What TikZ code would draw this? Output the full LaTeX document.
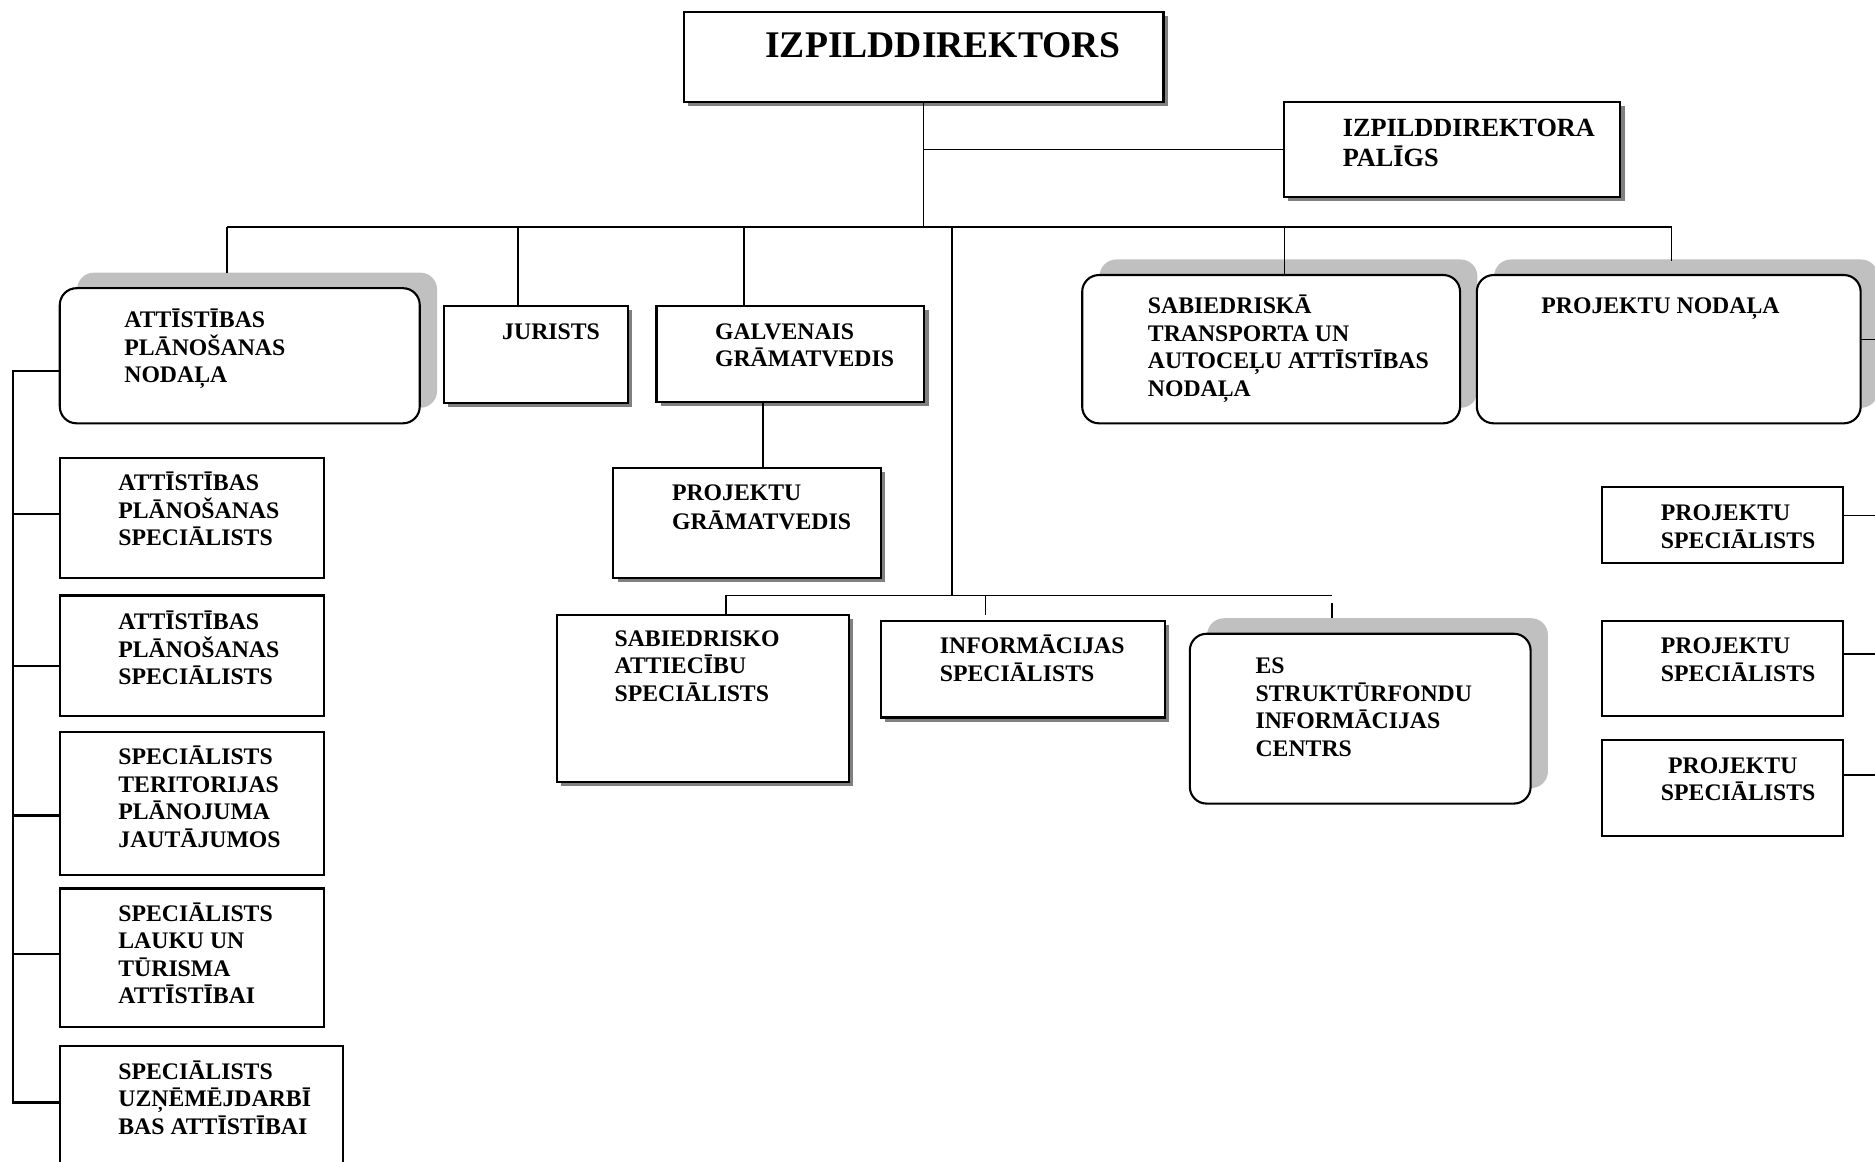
\documentclass[tikz,border=0pt]{standalone}
\usepackage{fontspec}
\setmainfont{Liberation Serif}
\usetikzlibrary{calc,shadows}
\definecolor{shdark}{RGB}{128,128,128}
\definecolor{shlight}{RGB}{192,192,192}
\newcommand{\tl}[2][13.1pt]{\vtop{\baselineskip=#1\relax\lineskiplimit=-\maxdimen\halign{##\hfil\cr#2\crcr}}}
\newcommand{\bx}[6]{\node[#6, minimum width={(#4-#2)*0.2mm}, minimum height={(#5-#3)*0.2mm}, anchor=north west] (#1) at (#2,#3) {};}
\tikzset{
  boxbase/.style={draw, line width=1pt, fill=white, inner sep=0pt, outer sep=0pt, rectangle},
  sbox/.style={boxbase, drop shadow={shadow xshift=0.7mm, shadow yshift=-0.7mm, fill=shdark, opacity=1}},
  pbox/.style={boxbase},
  rbox/.style={boxbase, rounded corners=2.8mm, drop shadow={shadow xshift=2.9mm, shadow yshift=2.6mm, fill=shlight, opacity=1}},
  txt/.style={anchor=base west, inner sep=0pt, outer sep=0pt, font=\bfseries\fontsize{11.3pt}{13.1pt}\selectfont},
  conn/.style={line width=0.7pt},
  connl/.style={line width=1pt},
}
\begin{document}
\begin{tikzpicture}[x=0.2mm,y=-0.2mm]
\clip (0,0) rectangle (1568,971);
% boxes
\bx{T}{572}{10}{973}{85}{sbox}
\bx{P}{1074}{85}{1355}{165}{sbox}
\bx{APN}{50}{241}{351}{354}{rbox}
\bx{JUR}{371}{256}{525}{337}{sbox}
\bx{GAL}{549}{256}{773}{336}{sbox}
\bx{PG}{513}{391}{737}{483}{sbox}
\bx{STA}{905}{230}{1221}{354}{rbox}
\bx{PN}{1235}{230}{1556}{354}{rbox}
\bx{SAS}{466}{514}{710}{654}{sbox}
\bx{INF}{737}{519}{974}{600}{sbox}
\bx{ES}{995}{530}{1280}{672}{rbox}
\bx{L1}{50}{383}{271}{483}{pbox}
\bx{L2}{50}{498}{271}{599}{pbox}
\bx{L3}{50}{612}{271}{732}{pbox}
\bx{L4}{50}{743}{271}{859}{pbox}
\bx{L5}{50}{875}{287}{1000}{pbox}
\bx{R1}{1340}{407}{1541}{471}{pbox}
\bx{R2}{1340}{519}{1541}{599}{pbox}
\bx{R3}{1340}{619}{1541}{699}{pbox}
% texts
\node[txt, font=\bfseries\fontsize{17.9pt}{20pt}\selectfont] (tT) at (640,48) {IZPILDDIREKTORS};
\node[txt, font=\bfseries\fontsize{12.5pt}{14.5pt}\selectfont] (tP) at (1123,114) {\tl[14.5pt]{IZPILDDIREKTORA\cr PALĪGS}};
\node[txt] (tAPN) at (104,274) {\tl{ATTĪSTĪBAS\cr PLĀNOŠANAS\cr NODAĻA}};
\node[txt] (tJUR) at (420,283.5) {JURISTS};
\node[txt] (tGAL) at (598,283.5) {\tl{GALVENAIS\cr GRĀMATVEDIS}};
\node[txt] (tPG) at (562,418.5) {\tl[13.66pt]{PROJEKTU\cr GRĀMATVEDIS}};
\node[txt] (tSTA) at (960,262.5) {\tl{SABIEDRISKĀ\cr TRANSPORTA UN\cr AUTOCEĻU ATTĪSTĪBAS\cr NODAĻA}};
\node[txt] (tPN) at (1289,262.5) {PROJEKTU NODAĻA};
\node[txt] (tSAS) at (514,540.5) {\tl{SABIEDRISKO\cr ATTIECĪBU\cr SPECIĀLISTS}};
\node[txt] (tINF) at (786,546.5) {\tl{INFORMĀCIJAS\cr SPECIĀLISTS}};
\node[txt] (tES) at (1050,563.5) {\tl{ES\cr STRUKTŪRFONDU\cr INFORMĀCIJAS\cr CENTRS}};
\node[txt] (tL1) at (99,410.5) {\tl{ATTĪSTĪBAS\cr PLĀNOŠANAS\cr SPECIĀLISTS}};
\node[txt] (tL2) at (99,526.5) {\tl{ATTĪSTĪBAS\cr PLĀNOŠANAS\cr SPECIĀLISTS}};
\node[txt] (tL3) at (99,639.5) {\tl{SPECIĀLISTS\cr TERITORIJAS\cr PLĀNOJUMA\cr JAUTĀJUMOS}};
\node[txt] (tL4) at (99,770.5) {\tl{SPECIĀLISTS\cr LAUKU UN\cr TŪRISMA\cr ATTĪSTĪBAI}};
\node[txt] (tL5) at (99,902.5) {\tl{SPECIĀLISTS\cr UZŅĒMĒJDARBĪ\cr BAS ATTĪSTĪBAI}};
\node[txt] (tR1) at (1389,435.5) {\tl{PROJEKTU\cr SPECIĀLISTS}};
\node[txt] (tR2) at (1389,546.5) {\tl{PROJEKTU\cr SPECIĀLISTS}};
\node[txt] (tR3) at (1389,646.5) {\tl{\hskip3.4pt PROJEKTU\cr SPECIĀLISTS}};
% connectors
\coordinate (busL) at (190,190);
\coordinate (busR) at (1398,190);
\draw[conn] (T.south) -- (T.south |- busL);
\draw[conn] (T.south |- P.west) -- (P.west);
\draw[conn] (busL) -- (busR);
\coordinate (ax) at ($(APN.north west)+(140,-13)$);
\draw[conn] (ax) -- (busL);
\coordinate (jx) at ($(JUR.north west)+(62,0)$);
\draw[conn] (jx) -- (jx |- busL);
\coordinate (gx) at ($(GAL.north west)+(73,0)$);
\draw[conn] (gx) -- (gx |- busL);
\coordinate (px) at ($(PG.north west)+(125,0)$);
\draw[conn] (px) -- (px |- GAL.south);
\coordinate (stx) at ($(STA.north west)+(169,0)$);
\draw[conn] (stx) -- (stx |- busL);
\coordinate (pnx) at ($(PN.north west)+(163,-12)$);
\draw[conn] (pnx) -- (busR);
\coordinate (pne) at ($(PN.east)+(0,-8)$);
\draw[conn] (pne) -- ++(40,0);
\coordinate (sb) at (796,498);
\draw[conn] (sb) -- (sb |- busL);
\coordinate (sx) at ($(SAS.north west)+(141,0)$);
\coordinate (ex) at ($(ES.north west)+(119,0)$);
\draw[conn] (sx) -- (sx |- sb) -- (ex |- sb);
\coordinate (ixt) at ($(INF.north west)+(87,-5)$);
\draw[conn] (ixt) -- (ixt |- sb);
\draw[conn] ($(ES.north west)+(119,-13)$) -- ($(ES.north west)+(119,-26)$);
% right column
\coordinate (e1) at ($(R1.east)+(0,-8)$);
\coordinate (e2) at ($(R2.east)+(0,-12)$);
\coordinate (e3) at ($(R3.east)+(0,-11)$);
\draw[conn] (e1) -- ++(40,0);
\draw[conn] (e2) -- ++(40,0);
\draw[conn] (e3) -- ++(40,0);
% left column
\coordinate (lcx) at (11,0);
\coordinate (a0) at ($(APN.west)+(0,12.5)$);
\coordinate (a1) at ($(L1.west)+(0,-3)$);
\coordinate (a2) at ($(L2.west)+(0,8.5)$);
\coordinate (a3) at ($(L3.west)+(0,10)$);
\coordinate (a4) at ($(L4.west)+(0,-3)$);
\coordinate (a5) at ($(L5.north west)+(0,47)$);
\draw[connl] (a0) -- (a0 -| lcx) -- (a5 -| lcx) -- (a5);
\draw[connl] (a1) -- (a1 -| lcx);
\draw[connl] (a2) -- (a2 -| lcx);
\draw[connl] (a3) -- (a3 -| lcx);
\draw[connl] (a4) -- (a4 -| lcx);
\end{tikzpicture}
\end{document}
